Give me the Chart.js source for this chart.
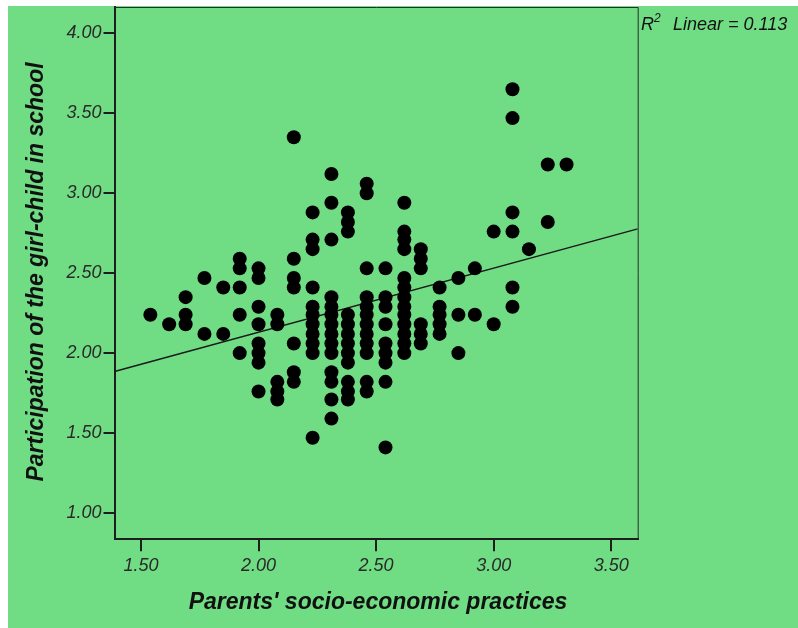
<!DOCTYPE html>
<html>
<head>
<meta charset="utf-8">
<script src="https://cdn.jsdelivr.net/npm/chart.js@4.4.1/dist/chart.umd.min.js"></script>
<style>
  html, body { margin: 0; padding: 0; background: #fff; }
  #wrap { position: absolute; left: 0; top: 0; width: 798px; height: 628px; }
</style>
</head>
<body>
<div id="wrap"><canvas id="scatter" width="798" height="628"></canvas></div>
<script>
// --- DATA ---
// parent score columns (x)
const parentScores = [1.54, 1.62, 1.69, 1.77, 1.85, 1.92, 2.00, 2.08, 2.15, 2.23, 2.31, 2.38,
                      2.46, 2.54, 2.62, 2.69, 2.77, 2.85, 2.92, 3.00, 3.08, 3.15, 3.23, 3.31];
// participation scores found in each column (y)
const participation = [
  [2.24],
  [2.18],
  [2.35, 2.24, 2.18],
  [2.47, 2.12],
  [2.41, 2.12],
  [2.59, 2.53, 2.41, 2.24, 2.00],
  [2.53, 2.47, 2.29, 2.18, 2.06, 2.00, 1.94, 1.76],
  [2.24, 2.18, 1.82, 1.76, 1.71],
  [3.35, 2.59, 2.47, 2.41, 2.06, 1.88, 1.82],
  [2.88, 2.71, 2.65, 2.41, 2.29, 2.24, 2.18, 2.12, 2.06, 2.00, 1.47],
  [3.12, 2.94, 2.71, 2.35, 2.29, 2.24, 2.18, 2.12, 2.06, 2.00, 1.88, 1.82, 1.71, 1.59],
  [2.88, 2.82, 2.76, 2.24, 2.18, 2.12, 2.06, 2.00, 1.94, 1.82, 1.76, 1.71],
  [3.06, 3.00, 2.53, 2.35, 2.29, 2.24, 2.18, 2.12, 2.06, 2.00, 1.82, 1.76],
  [2.53, 2.35, 2.29, 2.18, 2.06, 2.00, 1.94, 1.82, 1.41],
  [2.94, 2.76, 2.71, 2.65, 2.47, 2.41, 2.35, 2.29, 2.24, 2.18, 2.12, 2.06, 2.00],
  [2.65, 2.59, 2.53, 2.18, 2.12, 2.06],
  [2.41, 2.29, 2.24, 2.18, 2.12],
  [2.47, 2.24, 2.00],
  [2.53, 2.24],
  [2.76, 2.18],
  [3.65, 3.47, 2.88, 2.76, 2.41, 2.29],
  [2.65],
  [3.18, 2.82],
  [3.18]
];

// fit line end points (linear, R2 = 0.113)
const fitX = [1.3875, 3.6125];
const fitY = [1.885, 2.777];

const xTicks = [1.5, 2.0, 2.5, 3.0, 3.5];
const yTicks = [1.0, 1.5, 2.0, 2.5, 3.0, 3.5, 4.0];
const xRange = [1.3875, 3.6125];
const yRange = [0.835, 4.165];

const xTitle = "Parents' socio-economic practices";
const yTitle = "Participation of the girl-child in school";
const fitLabel = "Linear = 0.113";

// build the points
const points = [];
parentScores.forEach((px, i) => {
    participation[i].forEach((py) => points.push({ x: px, y: py }));
});
const fitPoints = fitX.map((v, i) => ({ x: v, y: fitY[i] }));

const GREEN = '#70dd85';
const FONT = '"Liberation Sans", Arial, sans-serif';

// background, frame and the text that is not part of an axis
const decorPlugin = {
    id: 'decor',
    beforeDraw(chart) {
        const c = chart.ctx;
        c.save();
        c.fillStyle = '#ffffff';
        c.fillRect(0, 0, chart.width, chart.height);
        c.fillStyle = GREEN;
        c.fillRect(8, 6, chart.width - 8, chart.height - 6);
        c.restore();
    },
    beforeDatasetsDraw(chart) {
        const a = chart.chartArea;
        const c = chart.ctx;
        c.save();
        c.strokeStyle = '#2b2b2b';
        c.lineWidth = 1;
        c.beginPath();
        c.moveTo(a.left, a.top + 0.5);
        c.lineTo(a.right + 0.5, a.top + 0.5);
        c.lineTo(a.right + 0.5, a.bottom);
        c.stroke();
        c.restore();
    },
    afterDraw(chart) {
        const c = chart.ctx;
        c.save();
        c.fillStyle = '#111';
        // axis titles
        c.font = 'italic bold 23px ' + FONT;
        c.textAlign = 'center';
        c.textBaseline = 'middle';
        c.fillText(xTitle, 378, 603);
        c.translate(37, 272);
        c.rotate(-Math.PI / 2);
        c.fillText(yTitle, 0, 0);
        c.restore();

        // R2 label
        c.save();
        c.fillStyle = '#111';
        c.textBaseline = 'alphabetic';
        c.textAlign = 'left';
        c.font = 'italic 18px ' + FONT;
        c.fillText('R', 641, 30);
        c.font = 'italic 12px ' + FONT;
        c.fillText('2', 654, 22);
        c.font = 'italic 18px ' + FONT;
        c.fillText(fitLabel, 673, 30);
        c.restore();
    }
};

const ctx = document.getElementById('scatter').getContext('2d');
const chart = new Chart(ctx, {
    type: 'scatter',
    data: {
        datasets: [{
            label: 'cases',
            data: points,
            backgroundColor: '#000',
            borderWidth: 0,
            pointRadius: 7,
            pointHoverRadius: 7,
            order: 0
        }, {
            label: 'fit',
            data: fitPoints,
            showLine: true,
            borderColor: '#1a1a1a',
            borderWidth: 1.5,
            pointRadius: 0,
            order: 1
        }]
    },
    options: {
        responsive: false,
        animation: false,
        devicePixelRatio: 1,
        layout: { padding: { top: 7, right: 160.3, bottom: 0, left: 0 } },
        plugins: { legend: { display: false }, tooltip: { enabled: false } },
        scales: {
            x: {
                type: 'linear',
                min: xRange[0],
                max: xRange[1],
                afterFit: (s) => { s.height = 88.7; s.paddingLeft = 0; s.paddingRight = 0; },
                afterBuildTicks: (s) => { s.ticks = xTicks.map(v => ({ value: v })); },
                border: { display: true, color: '#1e1e1e', width: 2 },
                grid: { drawOnChartArea: false, drawTicks: true, tickLength: 12, color: '#1e1e1e', lineWidth: 2 },
                ticks: {
                    padding: 4,
                    color: '#2a2a2a',
                    font: { family: FONT, size: 18, style: 'italic' },
                    callback: (v) => Number(v).toFixed(2)
                }
            },
            y: {
                type: 'linear',
                min: yRange[0],
                max: yRange[1],
                afterFit: (s) => { s.width = 114.5; s.paddingTop = 0; s.paddingBottom = 0; },
                afterBuildTicks: (s) => { s.ticks = yTicks.map(v => ({ value: v })); },
                border: { display: true, color: '#1e1e1e', width: 2 },
                grid: { drawOnChartArea: false, drawTicks: true, tickLength: 11, color: '#1e1e1e', lineWidth: 2 },
                ticks: {
                    padding: 2,
                    color: '#2a2a2a',
                    font: { family: FONT, size: 18, style: 'italic' },
                    callback: (v) => Number(v).toFixed(2)
                }
            }
        }
    },
    plugins: [decorPlugin]
});
</script>
</body>
</html>
